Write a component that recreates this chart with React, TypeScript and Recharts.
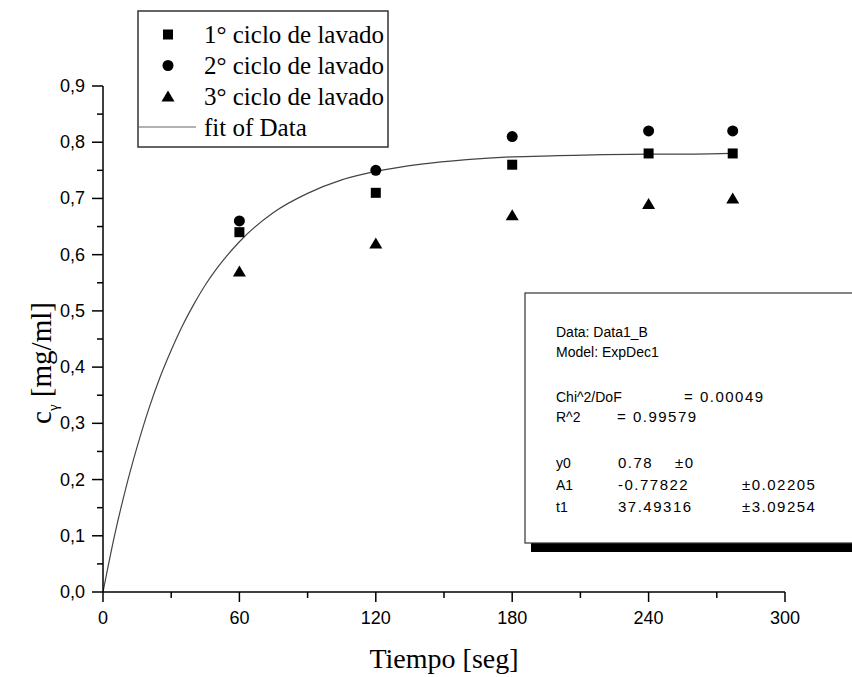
import React from 'react';
import { ComposedChart, XAxis, YAxis, Scatter, Line } from 'recharts';

// ---- data ----
const times = [60, 120, 180, 240, 277];
const ciclo1 = [0.64, 0.71, 0.76, 0.78, 0.78];
const ciclo2 = [0.66, 0.75, 0.81, 0.82, 0.82];
const ciclo3 = [0.57, 0.62, 0.67, 0.69, 0.70];
const fitTimes = [0, 5, 10, 15, 20, 25, 30, 35, 40, 45, 50, 60, 75, 90, 105, 120, 140, 160, 180, 200, 220, 240, 260, 277];
const fitValues = [0, 0.099, 0.184, 0.258, 0.324, 0.381, 0.430, 0.474, 0.512, 0.546, 0.575, 0.623, 0.675, 0.709, 0.733, 0.748, 0.761, 0.769, 0.774, 0.776, 0.778, 0.779, 0.779, 0.780];

const xTicks = [0, 30, 60, 90, 120, 150, 180, 210, 240, 270, 300];
const xMajor = [0, 60, 120, 180, 240, 300];
const yTicks = [0, 0.05, 0.1, 0.15, 0.2, 0.25, 0.3, 0.35, 0.4, 0.45, 0.5, 0.55, 0.6, 0.65, 0.7, 0.75, 0.8, 0.85, 0.9];
const yMajor = [0, 0.1, 0.2, 0.3, 0.4, 0.5, 0.6, 0.7, 0.8, 0.9];

const legendLabels = ['1° ciclo de lavado', '2° ciclo de lavado', '3° ciclo de lavado', 'fit of Data'];
const statsLines = [
  ['Data: Data1_B'],
  ['Model: ExpDec1'],
  [],
  ['Chi^2/DoF', '= 0.00049'],
  ['R^2', '=  0.99579'],
  [],
  ['y0', '0.78', '±0'],
  ['A1', '-0.77822', '±0.02205'],
  ['t1', '37.49316', '±3.09254'],
];

const s1 = times.map((t, i) => ({ x: t, y: ciclo1[i] }));
const s2 = times.map((t, i) => ({ x: t, y: ciclo2[i] }));
const s3 = times.map((t, i) => ({ x: t, y: ciclo3[i] }));
const fitData = fitTimes.map((t, i) => ({ x: t, fit: fitValues[i] }));

const SANS = '"Liberation Sans", Arial, sans-serif';
const SERIF = '"Liberation Serif", "Times New Roman", serif';

const TS = 10; // tick size
const TM = 4; // tick margin

const SquareShape = (p: any) => <rect x={p.cx - 5} y={p.cy - 5} width={10} height={10} fill="#000" />;
const CircleShape = (p: any) => <circle cx={p.cx} cy={p.cy} r={5.5} fill="#000" />;
const TriangleShape = (p: any) => (
  <path d={`M${p.cx},${p.cy - 6} L${p.cx + 6.5},${p.cy + 5} L${p.cx - 6.5},${p.cy + 5} Z`} fill="#000" />
);

const XTick = (props: any) => {
  const { x, y, payload } = props;
  const axisY = y - TS - TM;
  const major = xMajor.includes(payload.value);
  return (
    <g>
      <line x1={x} x2={x} y1={axisY} y2={axisY + (major ? 10 : 6)} stroke="#000" strokeWidth={1.5} />
      {major && (
        <text x={x} y={axisY + 32} textAnchor="middle" fontFamily={SANS} fontSize={18} fill="#000">
          {payload.value}
        </text>
      )}
    </g>
  );
};

const YTick = (props: any) => {
  const { x, y, payload } = props;
  const axisX = x + TS + TM;
  const v = payload.value;
  const major = yMajor.some((m) => Math.abs(m - v) < 1e-6);
  return (
    <g>
      <line x1={axisX - (major ? 11 : 6)} x2={axisX} y1={y} y2={y} stroke="#000" strokeWidth={1.5} />
      {major && (
        <text x={axisX - 18} y={y + 6} textAnchor="end" fontFamily={SANS} fontSize={18} fill="#000">
          {v.toFixed(1).replace('.', ',')}
        </text>
      )}
    </g>
  );
};

const XTitle = (props: any) => {
  const vb = props.viewBox || {};
  return (
    <text x={vb.x + vb.width / 2} y={vb.y + 76} textAnchor="middle" fontFamily={SERIF} fontSize={28} fill="#000">
      Tiempo [seg]
    </text>
  );
};

const YTitle = (props: any) => {
  const vb = props.viewBox || {};
  const cx = vb.x + 51;
  const cy = vb.y + vb.height / 2 + 24;
  return (
    <text x={cx} y={cy} transform={`rotate(-90 ${cx} ${cy})`} textAnchor="middle" fontFamily={SERIF} fontSize={29} fill="#000">
      c<tspan fontSize={15} dy={7}>γ</tspan>
      <tspan dy={-7}> [mg/ml]</tspan>
    </text>
  );
};

const Overlay = () => (
  <svg width={852} height={677} style={{ position: 'absolute', left: 0, top: 0, pointerEvents: 'none' }}>
    {/* legend */}
    <rect x={138} y={11} width={250} height={136} fill="#fff" stroke="#333" strokeWidth={1.5} />
    <rect x={163} y={29.5} width={10} height={10} fill="#000" />
    <circle cx={168} cy={65.5} r={5.5} fill="#000" />
    <path d="M168,90.5 L174.5,101.5 L161.5,101.5 Z" fill="#000" />
    <line x1={138} x2={196} y1={127} y2={127} stroke="#666" strokeWidth={1.2} />
    {legendLabels.map((l, i) => (
      <text key={l} x={204} y={43 + i * 31} fontFamily={SERIF} fontSize={25} fill="#000">
        {l}
      </text>
    ))}
    {/* fit statistics box */}
    <rect x={531} y={543} width={330} height={9} fill="#000" />
    <rect x={525} y={293} width={340} height={250} fill="#fff" stroke="#333" strokeWidth={1.2} />
    {statsLines.map((row, i) => {
      const yy = [337, 357, 0, 402, 422, 0, 468, 490, 512][i];
      if (!row.length) return null;
      let cols = [556];
      if (row.length === 3) cols = row[0] === 'y0' ? [556, 618, 675] : [556, 618, 742];
      else if (row.length === 2) cols = row[0] === 'R^2' ? [556, 617] : [556, 684];
      return row.map((t, j) => (
        <text
          key={i + '-' + j}
          x={cols[j]}
          y={yy}
          fontFamily={SANS}
          fontSize={j === 0 ? 14 : 15}
          letterSpacing={j === 0 ? 0 : 1.5}
          fill="#000"
        >
          {t}
        </text>
      ));
    })}
  </svg>
);

export default function App() {
  return (
    <div style={{ position: 'absolute', left: 0, top: 0, width: 852, height: 677, background: '#fff' }}>
      <ComposedChart width={852} height={677} margin={{ top: 86, right: 67, bottom: 0, left: 0 }}>
        <XAxis
          type="number"
          dataKey="x"
          domain={[0, 300]}
          ticks={xTicks}
          interval={0}
          height={85}
          tickSize={TS}
          tickMargin={TM}
          tickLine={false}
          tick={<XTick />}
          axisLine={{ stroke: '#000', strokeWidth: 1.5 }}
          label={<XTitle />}
          allowDataOverflow
        />
        <YAxis
          type="number"
          domain={[0, 0.9]}
          ticks={yTicks}
          interval={0}
          width={103}
          tickSize={TS}
          tickMargin={TM}
          tickLine={false}
          tick={<YTick />}
          axisLine={{ stroke: '#000', strokeWidth: 1.5 }}
          label={<YTitle />}
          allowDataOverflow
        />
        <Line
          data={fitData}
          dataKey="fit"
          type="monotone"
          stroke="#444"
          strokeWidth={1.2}
          dot={false}
          activeDot={false}
          isAnimationActive={false}
        />
        <Scatter data={s1} dataKey="y" shape={SquareShape} isAnimationActive={false} />
        <Scatter data={s2} dataKey="y" shape={CircleShape} isAnimationActive={false} />
        <Scatter data={s3} dataKey="y" shape={TriangleShape} isAnimationActive={false} />
      </ComposedChart>
      <Overlay />
    </div>
  );
}
